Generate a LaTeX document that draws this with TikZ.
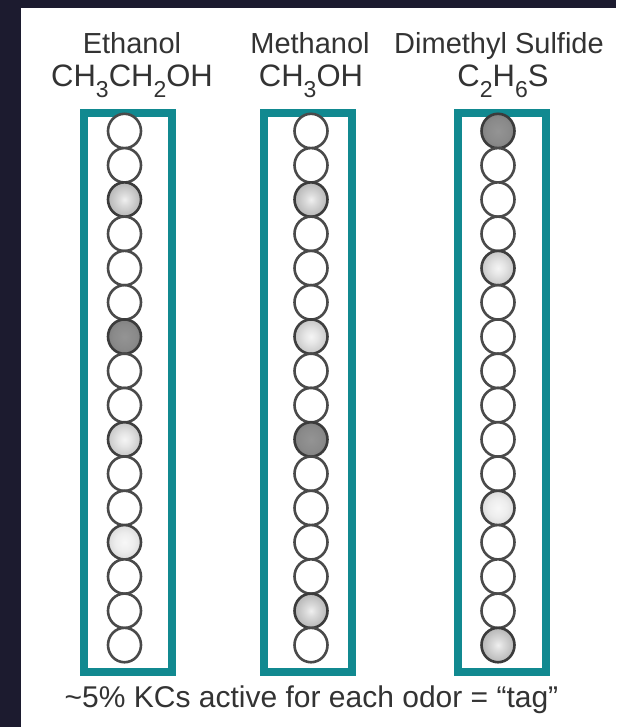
\documentclass[tikz,border=0pt]{standalone}
\usepackage{fontspec}
\setmainfont{Liberation Sans}
\usetikzlibrary{shapes.geometric}
\definecolor{bgdark}{HTML}{1C1B2F}
\definecolor{boxteal}{HTML}{118990}
\definecolor{txt}{HTML}{333333}
\definecolor{ring}{HTML}{4A4A4A}
\pgfdeclareradialshading{kcdark}{\pgfpoint{0bp}{0bp}}{rgb(0bp)=(0.58,0.58,0.58);rgb(18bp)=(0.54,0.54,0.54);rgb(50bp)=(0.38,0.38,0.38);rgb(100bp)=(0.38,0.38,0.38)}
\pgfdeclareradialshading{kcmed}{\pgfpoint{0bp}{0bp}}{rgb(0bp)=(0.94,0.94,0.94);rgb(8bp)=(0.86,0.86,0.86);rgb(50bp)=(0.50,0.50,0.50);rgb(100bp)=(0.50,0.50,0.50)}
\pgfdeclareradialshading{kcmedlight}{\pgfpoint{0bp}{0bp}}{rgb(0bp)=(0.96,0.96,0.96);rgb(10bp)=(0.90,0.90,0.90);rgb(50bp)=(0.58,0.58,0.58);rgb(100bp)=(0.58,0.58,0.58)}
\pgfdeclareradialshading{kclight}{\pgfpoint{0bp}{0bp}}{rgb(0bp)=(0.97,0.97,0.97);rgb(14bp)=(0.93,0.93,0.93);rgb(50bp)=(0.70,0.70,0.70);rgb(100bp)=(0.70,0.70,0.70)}
\newcommand\chemsub[1]{\raisebox{-11pt}{\fontsize{23}{23}\selectfont #1}}
\begin{document}
\begin{tikzpicture}[x=1pt,y=-1pt,
  title/.style={anchor=base,inner sep=0pt,text=txt,font=\fontsize{29}{32}\selectfont},
  formula/.style={anchor=base,inner sep=0pt,text=txt,font=\fontsize{31}{33}\selectfont},
  caption/.style={anchor=base,inner sep=0pt,text=txt,font=\fontsize{30}{32}\selectfont},
  colbox/.style={draw=boxteal,line width=8pt,minimum width=88pt,minimum height=558.5pt,inner sep=0pt},
  kc/.style={ellipse,draw=ring,line width=2.6pt,fill=white,minimum width=33pt,minimum height=34.4pt,inner sep=0pt},
  dk/.style={shade,shading=kcdark,draw=ring!80!black},
  md/.style={shade,shading=kcmed,draw=ring!80!black},
  ml/.style={shade,shading=kcmedlight,draw=ring!85!black},
  lt/.style={shade,shading=kclight,draw=ring!90!black},
  a-1-3/.style={md}, a-1-7/.style={dk}, a-1-10/.style={ml}, a-1-13/.style={lt},
  a-2-3/.style={md}, a-2-7/.style={ml}, a-2-10/.style={dk}, a-2-15/.style={md},
  a-3-1/.style={dk}, a-3-5/.style={ml}, a-3-12/.style={lt}, a-3-16/.style={md}]
\useasboundingbox (0,0) rectangle (616,727);
\fill[bgdark] (0,0) rectangle (616,727);
\fill[white] (21,8) rectangle (616,727);
% titles
\node[title] (t1) at (132,54) {Ethanol};
\node[formula] (f1) at (132,87) {CH\chemsub{3}CH\chemsub{2}OH};
\node[title] (t2) at (310,54) {Methanol};
\node[formula] (f2) at (311,87) {CH\chemsub{3}OH};
\node[title] (t3) at (499,54) {Dimethyl Sulfide};
\node[formula] (f3) at (503,87) {C\chemsub{2}H\chemsub{6}S};
% boxes
\node[colbox] (b1) at (128,392.25) {};
\node[colbox] (b2) at (308,392.25) {};
\node[colbox] (b3) at (502,392.25) {};
% cells
\foreach \col/\x in {1/124.5,2/311,3/498}{
  \foreach \i in {1,...,16}{
    \node[kc,a-\col-\i/.try] (c-\col-\i) at (\x,{131+34.27*(\i-1)}) {};
  }
}
% caption
\node[caption] (cap) at (311.5,707) {\textasciitilde5\% KCs active for each odor = “tag”};
\end{tikzpicture}
\end{document}
